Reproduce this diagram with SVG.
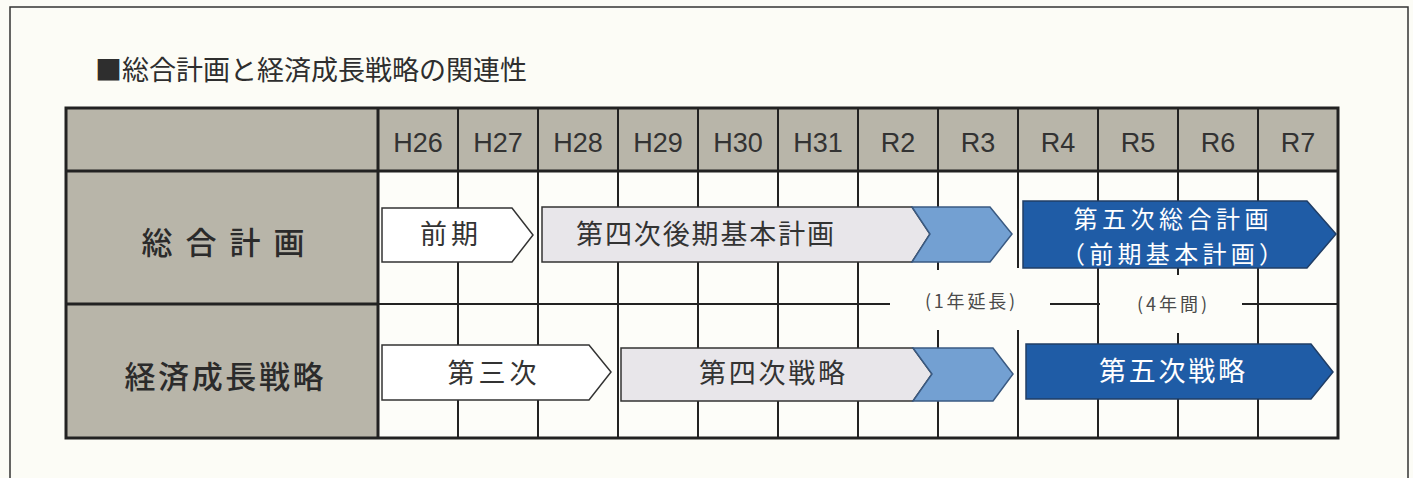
<svg xmlns="http://www.w3.org/2000/svg" width="1413" height="478" viewBox="0 0 1413 478">
<style>
.bg{fill:#fcfcf6}
.frame{fill:none;stroke:#333;stroke-width:1.5}
.hdr{fill:#b8b5a9}
.g{stroke:#222;stroke-width:2;fill:none}
.tk{stroke:#222;stroke-width:3;fill:none}
.jp{font-family:"Noto Sans CJK JP","Noto Sans CJK SC",sans-serif}
.yr{font-family:"Liberation Sans",Arial,sans-serif;font-size:27px;fill:#333;text-anchor:middle}
.lbl{font-size:31px;font-weight:500;fill:#2b2b2b;text-anchor:middle}
.at{font-size:27px;fill:#333;text-anchor:middle}
.atw{font-size:27px;fill:#fff;text-anchor:middle}
.atw2{font-size:24px;fill:#fff;text-anchor:middle}
.sm{font-size:18px;fill:#4a4a4a;text-anchor:middle}
.aw{fill:#fff;stroke:#333;stroke-width:1.5}
.ag{fill:#e8e6ea;stroke:#333;stroke-width:1.5}
.ab{fill:#73a0d2;stroke:#3a5a82;stroke-width:1.5}
.ad{fill:#1f5ca6;stroke:#203e66;stroke-width:1.5}
</style>
<rect class="bg" x="0" y="0" width="1413" height="478"/>
<rect class="frame" x="10" y="7" width="1398" height="490"/>
<text class="jp" x="95" y="80" font-size="27" fill="#2e2e2e">■総合計画と経済成長戦略の関連性</text>

<g id="table">
  <rect class="hdr" x="66" y="108" width="1272" height="63"/>
  <rect class="hdr" x="66" y="171" width="312" height="267"/>
  <rect x="378" y="171" width="960" height="267" fill="#fdfdf9"/>
</g>

<g id="grid">
  <path class="g" d="M458 108V438M538 108V438M618 108V438M698 108V438M778 108V438M858 108V438M1098 108V438M1258 108V438"/>
  <path class="g" d="M938 108V270M938 330V438M1018 108V268M1018 330V438M1178 108V275M1178 333V438"/>
  <path class="g" d="M378 304H890M1050 304H1100M1242 304H1338"/>
  <path class="tk" d="M66 171H1338M66 304H378M378 108V438"/>
  <rect class="tk" x="66" y="108" width="1272" height="330"/>
</g>

<g id="years">
  <text class="yr" x="418" y="152">H26</text>
  <text class="yr" x="498" y="152">H27</text>
  <text class="yr" x="578" y="152">H28</text>
  <text class="yr" x="658" y="152">H29</text>
  <text class="yr" x="738" y="152">H30</text>
  <text class="yr" x="818" y="152">H31</text>
  <text class="yr" x="898" y="152">R2</text>
  <text class="yr" x="978" y="152">R3</text>
  <text class="yr" x="1058" y="152">R4</text>
  <text class="yr" x="1138" y="152">R5</text>
  <text class="yr" x="1218" y="152">R6</text>
  <text class="yr" x="1298" y="152">R7</text>
</g>

<g id="row-labels">
  <text class="jp lbl" x="223" y="254" textLength="163" lengthAdjust="spacing" xml:space="preserve">総 合 計 画</text>
  <text class="jp lbl" x="224" y="388" textLength="199" lengthAdjust="spacing">経済成長戦略</text>
</g>

<g id="zenki">
  <path class="aw" d="M382 208H512L533 235L512 262H382Z"/>
  <text class="jp at" x="449" y="244" textLength="58" lengthAdjust="spacing">前期</text>
</g>
<g id="dai4-kouki">
  <path class="ag" d="M542 207H912L930 234L912 262H542Z"/>
  <text class="jp at" x="705" y="244" textLength="258" lengthAdjust="spacing">第四次後期基本計画</text>
</g>
<g id="ext1">
  <path class="ab" d="M912 207H990L1012 234L990 262H912L930 234Z"/>
</g>
<g id="dai5-sougou">
  <path class="ad" d="M1023 201H1307L1336 234L1307 268H1023Z"/>
  <text class="jp atw2" x="1171" y="228" textLength="195" lengthAdjust="spacing">第五次総合計画</text>
  <text class="jp atw2" x="1172" y="263" textLength="222" lengthAdjust="spacing">（前期基本計画）</text>
</g>

<g id="dai3">
  <path class="aw" d="M382 345H589L611 372L589 400H382Z"/>
  <text class="jp at" x="492" y="383" textLength="89" lengthAdjust="spacing">第三次</text>
</g>
<g id="dai4-senryaku">
  <path class="ag" d="M621 348H913L932 374L913 401H621Z"/>
  <text class="jp at" x="772" y="383" textLength="146" lengthAdjust="spacing">第四次戦略</text>
</g>
<g id="ext2">
  <path class="ab" d="M913 348H993L1013 374L993 401H913L932 374Z"/>
</g>
<g id="dai5-senryaku">
  <path class="ad" d="M1026 344H1311L1333 372L1311 399H1026Z"/>
  <text class="jp atw" x="1172" y="381" textLength="146" lengthAdjust="spacing">第五次戦略</text>
</g>

<g id="period-labels">
  <text class="jp sm" x="970" y="308" textLength="90" lengthAdjust="spacing">(1年延長)</text>
  <text class="jp sm" x="1172" y="311" textLength="70" lengthAdjust="spacing">(4年間)</text>
</g>
</svg>
